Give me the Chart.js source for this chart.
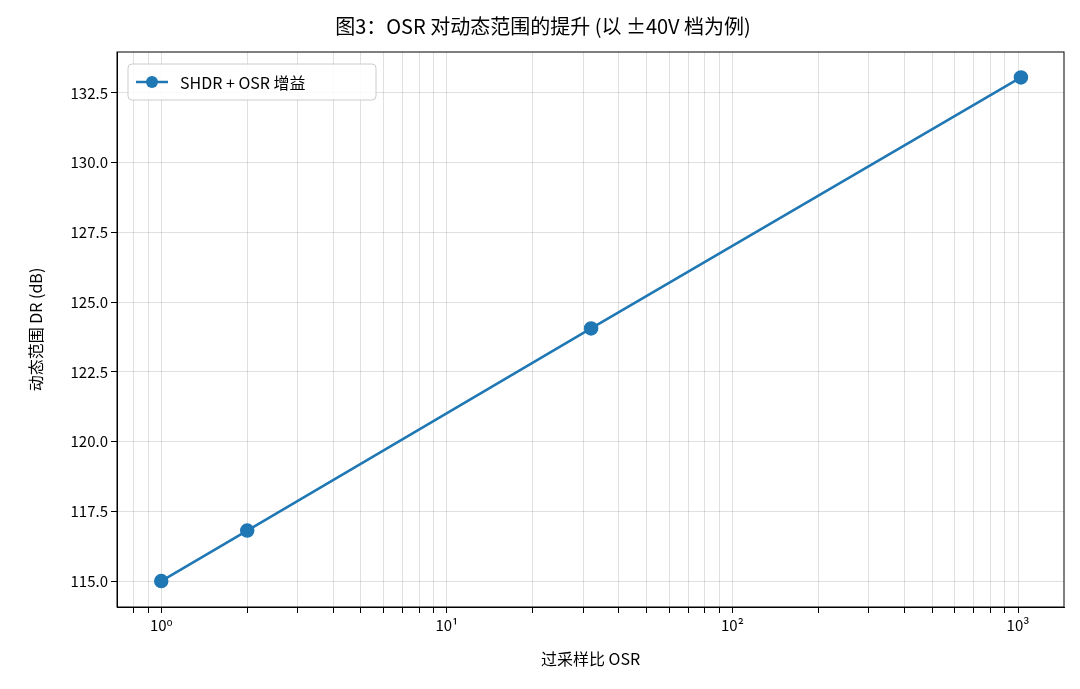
<!DOCTYPE html>
<html><head><meta charset="utf-8">
<script src="https://cdn.jsdelivr.net/npm/chart.js@4/dist/chart.umd.min.js"></script>
<style>html,body{margin:0;background:#fff}#wrap{width:1080px;height:689px}</style>
</head><body><div id="wrap"><canvas id="c"></canvas></div>
<script>
const osr = [1, 2, 32, 1024]
const dr = [115.0, 116.81, 124.06, 133.06]
const yTicks = [115.0, 117.5, 120.0, 122.5, 125.0, 127.5, 130.0, 132.5]
const sup = {0:'⁰',1:'¹',2:'²',3:'³'}
const font = "'Noto Sans CJK SC', 'DejaVu Sans', sans-serif"
Chart.defaults.font.family = font
Chart.defaults.color = '#000'

// frame around plot area + legend box inside, matplotlib style
const framePlugin = {
  id: 'frame',
  afterDraw(chart) {
    const { ctx, chartArea: a } = chart
    ctx.save()
    ctx.strokeStyle = '#000'; ctx.lineWidth = 1
    ctx.strokeRect(a.left, a.top, a.right - a.left, a.bottom - a.top)
    const ds = chart.data.datasets[0]
    const x = a.left + 11, y = a.top + 12, w = 248, h = 36
    ctx.fillStyle = 'rgba(255,255,255,0.85)'
    ctx.strokeStyle = '#ccc'
    ctx.beginPath(); ctx.roundRect(x, y, w, h, 4); ctx.fill(); ctx.stroke()
    ctx.strokeStyle = ds.borderColor; ctx.lineWidth = 2.5
    ctx.beginPath(); ctx.moveTo(x + 8, y + h / 2); ctx.lineTo(x + 40, y + h / 2); ctx.stroke()
    ctx.fillStyle = ds.borderColor
    ctx.beginPath(); ctx.arc(x + 24, y + h / 2, 6, 0, Math.PI * 2); ctx.fill()
    ctx.fillStyle = '#000'; ctx.font = '16px ' + font; ctx.textBaseline = 'middle'
    ctx.fillText(ds.label, x + 52, y + h / 2 + 1)
    ctx.restore()
  }
}

new Chart(document.getElementById('c'), {
  type: 'line',
  data: { datasets: [{
    label: 'SHDR + OSR 增益',
    data: osr.map((x, i) => ({ x, y: dr[i] })),
    borderColor: '#1f77b4', backgroundColor: '#1f77b4',
    borderWidth: 2.5, pointRadius: 6, pointHoverRadius: 6
  }]},
  plugins: [framePlugin],
  options: {
    responsive: true, maintainAspectRatio: false, animation: false,
    layout: { padding: { right: 16, left: 22, top: 0, bottom: 16 } },
    plugins: {
      title: { display: true, text: '图3：OSR 对动态范围的提升 (以 ±40V 档为例)', font: { size: 20, weight: 'normal' }, padding: { top: 14, bottom: 14 } },
      legend: { display: false },
      tooltip: { enabled: false }
    },
    scales: {
      x: {
        type: 'logarithmic', min: 0.707, max: 1449,
        afterBuildTicks: s => {
          const t = []
          for (let e = -1; e <= 3; e++) for (let m = 1; m <= 9; m++) {
            const v = m * Math.pow(10, e)
            if (v >= 0.707 && v <= 1449) t.push({ value: v })
          }
          s.ticks = t
        },
        afterFit: s => { s.height = 66 },
        ticks: { autoSkip: false, maxRotation: 0, font: { size: 15 },
          callback: v => { const e = Math.round(Math.log10(v)); return Math.abs(v - Math.pow(10, e)) < 1e-9 ? '10' + sup[e] : '' } },
        grid: { color: 'rgba(0,0,0,0.12)', tickColor: '#000', tickLength: 6 },
        border: { color: '#000' },
        title: { display: true, text: '过采样比 OSR', font: { size: 16 }, padding: { top: 2 } }
      },
      y: {
        min: 114.07, max: 133.97,
        afterBuildTicks: s => { s.ticks = yTicks.map(v => ({ value: v })) },
        afterFit: s => { s.width = 95 },
        ticks: { font: { size: 15 }, callback: v => v.toFixed(1) },
        grid: { color: 'rgba(0,0,0,0.12)', tickColor: '#000', tickLength: 6 },
        border: { color: '#000' },
        title: { display: true, text: '动态范围 DR (dB)', font: { size: 16 }, padding: { bottom: 2 } }
      }
    }
  }
})
</script></body></html>
